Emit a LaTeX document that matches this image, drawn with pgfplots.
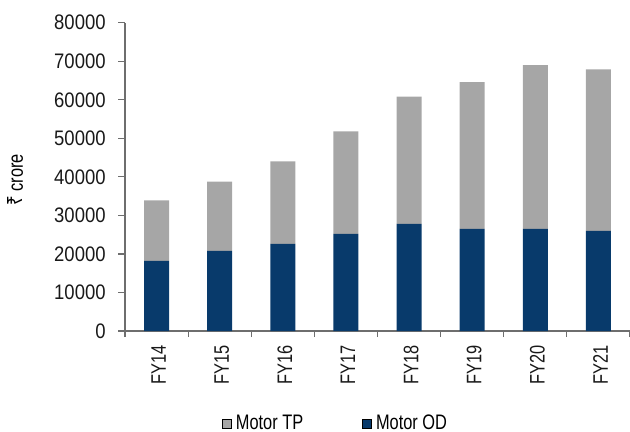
\documentclass[border=0pt]{standalone}
\usepackage{fontspec}
\setmainfont{Liberation Sans}[FakeStretch=0.78]
\newfontfamily\numfont{Liberation Sans}[FakeStretch=0.88]
\newfontfamily\rupeefont{Noto Sans}[FakeStretch=0.8]
\usepackage{pgfplots}
\pgfplotsset{compat=1.18}
\definecolor{odblue}{HTML}{083A6B}
\definecolor{tpgray}{HTML}{A6A6A6}
\definecolor{axgray}{HTML}{6E6E6E}
\begin{document}
\fontsize{10.5pt}{12pt}\selectfont
\begin{tikzpicture}
\useasboundingbox (-62.5pt,-50pt) rectangle (252.5pt,165.55pt);
\begin{axis}[
  scale only axis, width=252.5pt, height=154.2pt,
  at={(0pt,0pt)}, anchor=south west,
  ybar stacked, bar width=12.5pt,
  ymin=0, ymax=80000, ytick={0,10000,...,80000},
  xmin=-0.5, xmax=7.5, xtick={0,...,7},
  xticklabels={FY14,FY15,FY16,FY17,FY18,FY19,FY20,FY21},
  minor xtick={-0.5,0.5,...,7.5},
  axis lines*=left,
  axis line style={axgray, line width=0.6pt},
  tick align=outside,
  major tick length=3.5pt, minor tick length=3pt,
  major x tick style={draw=none},
  every tick/.style={axgray, line width=0.6pt},
  minor x tick style={axgray, line width=0.6pt},
  scaled y ticks=false,
  /pgf/number format/assume math mode=true,
  /pgf/number format/set thousands separator={},
  tick label style={font=\fontsize{10.5pt}{12pt}\selectfont, text=black!90},
  y tick label style={font=\numfont\fontsize{10.5pt}{12pt}\selectfont, xshift=-2.5pt},
  x tick label style={rotate=90, anchor=east, yshift=-1pt},
  ylabel={{\rupeefont ₹} crore},
  ylabel style={at={(axis description cs:-0.217,0.49)}, anchor=center, font=\fontsize{10.5pt}{12pt}\selectfont},
  legend style={at={(axis description cs:0.419,-0.30)}, anchor=center, draw=none,
    font=\fontsize{10.5pt}{12pt}\selectfont, inner sep=0pt,
    /tikz/every even column/.append style={column sep=27.5pt}},
  legend columns=2,
  legend image code/.code={\fill[#1] (0pt,-2.25pt) rectangle (4.5pt,2.25pt);},
]
\addlegendimage{fill=tpgray}
\addlegendentry{Motor TP}
\addlegendimage{fill=odblue}
\addlegendentry{Motor OD}
\addplot[fill=odblue, draw=none, forget plot] coordinates {
(0,18200) (1,20800) (2,22600) (3,25200) (4,27800) (5,26500) (6,26500) (7,26000)};
\addplot[fill=tpgray, draw=none, forget plot] coordinates {
(0,15700) (1,18000) (2,21400) (3,26600) (4,33000) (5,38100) (6,42500) (7,41900)};
\end{axis}
\end{tikzpicture}
\end{document}
